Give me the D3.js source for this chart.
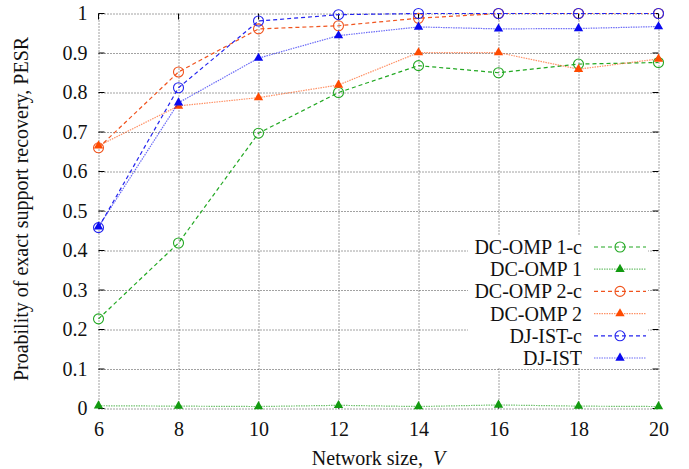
<!DOCTYPE html>
<html>
<head>
<meta charset="utf-8">
<script src="https://cdn.jsdelivr.net/npm/d3@7"></script>
<style>
  body { margin: 0; background: #fff; }
  svg { font-family: "Liberation Serif", "DejaVu Serif", serif; }
  .grid line { stroke: #444; stroke-dasharray: 1,2; }
  .grid path { display: none; }
</style>
</head>
<body>
<div id="chart"></div>
<script>
// network sizes (x axis)
const sizes = [6, 8, 10, 12, 14, 16, 18, 20];
const yTicks = [0, 0.1, 0.2, 0.3, 0.4, 0.5, 0.6, 0.7, 0.8, 0.9, 1];

// series values
const dcomp1c = [0.227, 0.419, 0.697, 0.800, 0.868, 0.850, 0.872, 0.876];
const dcomp1  = [0.007, 0.006, 0.005, 0.008, 0.005, 0.009, 0.006, 0.005];
const dcomp2c = [0.660, 0.852, 0.961, 0.969, 0.988, 1.0, 1.0, 1.0];
const dcomp2  = [0.665, 0.766, 0.787, 0.819, 0.901, 0.901, 0.859, 0.885];
const djistc  = [0.458, 0.812, 0.981, 0.997, 1.0, 1.0, 1.0, 1.0];
const djist   = [0.460, 0.774, 0.887, 0.944, 0.966, 0.961, 0.962, 0.967];

const series = [
  { name: "DC-OMP 1-c", values: dcomp1c, color: "#22a822", marker: "circle", dash: "4,3", op: 1 },
  { name: "DC-OMP 1",   values: dcomp1,  color: "#129a10", marker: "tri",    dash: "1.5,1", op: 0.6 },
  { name: "DC-OMP 2-c", values: dcomp2c, color: "#f0541e", marker: "circle", dash: "4,3", op: 1 },
  { name: "DC-OMP 2",   values: dcomp2,  color: "#ff4a00", marker: "tri",    dash: "1.5,1", op: 0.6 },
  { name: "DJ-IST-c",   values: djistc,  color: "#2424ee", marker: "circle", dash: "4,3", op: 1 },
  { name: "DJ-IST",     values: djist,   color: "#0a0af0", marker: "tri",    dash: "1.5,1", op: 0.6 }
];

const W = 689, H = 469;
const FS = 20;
const x = d3.scaleLinear().domain([6, 20]).range([98.5, 658.5]);
const y = d3.scaleLinear().domain([0, 1]).range([408.5, 13.5]);

const svg = d3.select("#chart").append("svg")
  .attr("width", W).attr("height", H);

// dotted grid (includes edges, no solid border)
svg.append("g").attr("class", "grid")
  .attr("transform", `translate(0, ${y(0)})`)
  .call(d3.axisBottom(x).tickValues(sizes).tickSize(y(1) - y(0)).tickFormat(""));
svg.append("g").attr("class", "grid")
  .attr("transform", `translate(${x(6)}, 0)`)
  .call(d3.axisLeft(y).tickValues(yTicks).tickSize(x(6) - x(20)).tickFormat(""));

// inward solid ticks on all four sides
const tk = 6;
const tickG = svg.append("g").attr("stroke", "#000").attr("stroke-width", 1);
yTicks.forEach(v => {
  tickG.append("line").attr("x1", x(6)).attr("x2", x(6) + tk).attr("y1", y(v)).attr("y2", y(v));
  tickG.append("line").attr("x1", x(20)).attr("x2", x(20) - tk).attr("y1", y(v)).attr("y2", y(v));
});
sizes.forEach(v => {
  tickG.append("line").attr("x1", x(v)).attr("x2", x(v)).attr("y1", y(0)).attr("y2", y(0) - tk);
  tickG.append("line").attr("x1", x(v)).attr("x2", x(v)).attr("y1", y(1)).attr("y2", y(1) + tk);
});

// tick labels
const yAxis = svg.append("g")
  .attr("transform", `translate(${x(6)}, 0)`)
  .call(d3.axisLeft(y).tickValues(yTicks).tickSize(0).tickPadding(11).tickFormat(d => d3.format("")(+d.toFixed(1))));
yAxis.select(".domain").remove();
yAxis.selectAll("text").attr("font-size", FS).attr("font-family", "Liberation Serif").attr("fill", "#111");

const xAxis = svg.append("g")
  .attr("transform", `translate(0, ${y(0)})`)
  .call(d3.axisBottom(x).tickValues(sizes).tickSize(0).tickPadding(13));
xAxis.select(".domain").remove();
xAxis.selectAll("text").attr("font-size", FS).attr("font-family", "Liberation Serif").attr("fill", "#111");

// axis titles
const xl = svg.append("text")
  .attr("x", (x(6) + x(20)) / 2).attr("y", 465)
  .attr("text-anchor", "middle").attr("font-size", FS).attr("fill", "#111");
xl.append("tspan").text("Network size,\u00a0\u00a0");
xl.append("tspan").attr("font-style", "italic").text("V");

svg.append("text")
  .attr("transform", `translate(28, 209) rotate(-90)`)
  .attr("text-anchor", "middle").attr("font-size", FS).attr("fill", "#111")
  .text("Proability of exact support recovery, PESR");

// series
const line = d3.line().x((d, i) => x(sizes[i])).y(d => y(d));
const tri = d3.symbol().type(d3.symbolTriangle).size(38);

function drawMarker(g, s, cx, cy) {
  if (s.marker === "circle") {
    g.append("circle").attr("cx", cx).attr("cy", cy).attr("r", 5)
      .attr("fill", "none").attr("stroke", s.color).attr("stroke-width", 1.1);
  } else {
    g.append("path").attr("d", tri).attr("transform", `translate(${cx}, ${cy})`)
      .attr("fill", s.color);
  }
}

series.forEach(s => {
  const g = svg.append("g");
  g.append("path").datum(s.values)
    .attr("d", line).attr("fill", "none")
    .attr("stroke", s.color).attr("stroke-width", 1.2)
    .attr("stroke-opacity", s.op)
    .attr("stroke-dasharray", s.dash);
  s.values.forEach((v, i) => drawMarker(g, s, x(sizes[i]), y(v)));
});

// legend with white box
svg.append("rect").attr("x", 468).attr("y", 235).attr("width", 180).attr("height", 133).attr("fill", "#fff");
const legend = svg.append("g");
series.forEach((s, i) => {
  const ly = 247 + i * 22.2;
  legend.append("text").attr("x", 582).attr("y", ly + 7)
    .attr("text-anchor", "end").attr("font-size", FS).attr("fill", "#111").text(s.name);
  legend.append("line").attr("x1", 594).attr("x2", 646).attr("y1", ly).attr("y2", ly)
    .attr("stroke", s.color).attr("stroke-width", 1.2)
    .attr("stroke-opacity", s.op).attr("stroke-dasharray", s.dash);
  drawMarker(legend, s, 620, ly);
});
</script>
</body>
</html>
